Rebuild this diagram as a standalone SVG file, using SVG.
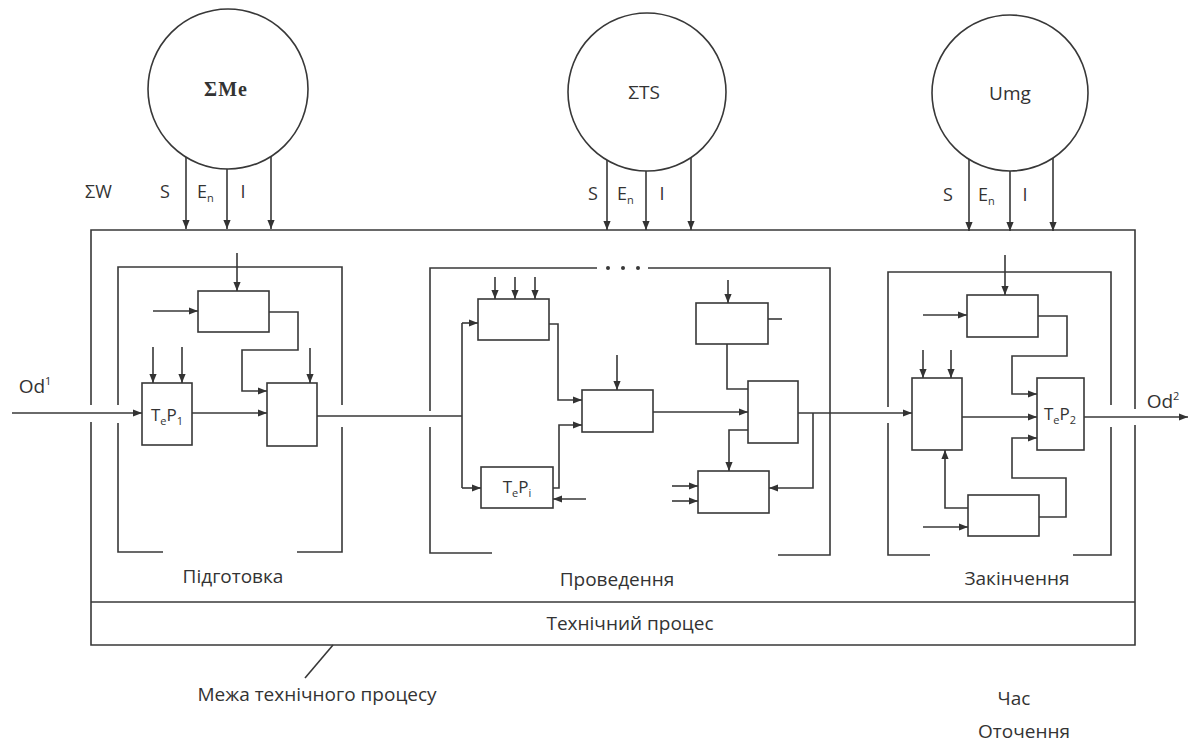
<svg xmlns="http://www.w3.org/2000/svg" width="1191" height="744" viewBox="0 0 1191 744">
<defs>
<marker id="ah" viewBox="0 0 10 10" refX="10" refY="5" markerWidth="10" markerHeight="9" markerUnits="userSpaceOnUse" orient="auto"><path d="M0,1 L10,5 L0,9 z" fill="#333"/></marker>
<style>
.ln{fill:none;stroke:#383838;stroke-width:1.6}
.bx{fill:none;stroke:#383838;stroke-width:1.6}
.ar{fill:none;stroke:#383838;stroke-width:1.6;marker-end:url(#ah)}
.t{font-family:"Open Sans","Noto Sans",sans-serif;fill:#333;font-size:18px}
.lb{font-family:"Open Sans","Noto Sans",sans-serif;fill:#333;font-size:19px;text-anchor:middle}
.sb{font-size:11px}
.bt{font-family:"Open Sans","Noto Sans",sans-serif;fill:#333;font-size:17px;text-anchor:middle}
</style>
</defs>
<rect width="1191" height="744" fill="#fff"/>

<g id="outer">
<path class="ln" d="M91,405 V230 H1135 V409 M1135,425 V645 H91 V422"/>
<path class="ln" d="M91,602 H1135"/>
</g>

<g id="circle-me">
<circle class="bx" cx="228" cy="89" r="80"/>
<text x="226" y="96" font-family="Liberation Serif,serif" font-weight="bold" font-size="20" letter-spacing="1" fill="#333" text-anchor="middle">ΣMe</text>
</g>
<g id="circle-ts">
<circle class="bx" cx="647" cy="92" r="79"/>
<text x="644" y="99" class="lb" font-size="20">ΣTS</text>
</g>
<g id="circle-umg">
<circle class="bx" cx="1010" cy="93" r="78"/>
<text x="1010" y="100" class="lb" font-size="20">Umg</text>
</g>

<g id="labels-top">
<text x="85" y="198" class="t">ΣW</text>
<text x="165" y="198" class="t" text-anchor="middle">S</text>
<text x="197" y="198" class="t">E<tspan class="sb" dy="4">n</tspan></text>
<text x="243" y="198" class="t" text-anchor="middle">I</text>
<text x="593" y="200" class="t" text-anchor="middle">S</text>
<text x="617" y="200" class="t">E<tspan class="sb" dy="4">n</tspan></text>
<text x="662" y="200" class="t" text-anchor="middle">I</text>
<text x="948" y="201" class="t" text-anchor="middle">S</text>
<text x="978" y="201" class="t">E<tspan class="sb" dy="4">n</tspan></text>
<text x="1025" y="201" class="t" text-anchor="middle">I</text>
</g>

<g id="block-pidgotovka">
<path class="ln" d="M163,552 H118 V423 M118,405 V267 H342 V405 M342,427 V552 H297"/>
<rect id="p-top" class="bx" x="198" y="291" width="71" height="41"/>
<rect id="p-te1" class="bx" x="142" y="383" width="50" height="62"/>
<text x="167" y="421" class="bt">T<tspan class="sb" dy="4">e</tspan><tspan dy="-4">P</tspan><tspan class="sb" dy="4">1</tspan></text>
<rect id="p-right" class="bx" x="267" y="383" width="50" height="63"/>
<text x="233" y="583" class="lb">Підготовка</text>
</g>

<g id="block-provedennya">
<path class="ln" d="M492,553 H430 V427 M430,411 V268 H597 M648,268 H830 V555 H778"/>
<circle cx="608" cy="268" r="2" fill="#383838"/>
<circle cx="623" cy="268" r="2" fill="#383838"/>
<circle cx="638" cy="268" r="2" fill="#383838"/>
<rect class="bx" x="478" y="299" width="71" height="41"/>
<rect class="bx" x="582" y="390" width="71" height="42"/>
<rect class="bx" x="481" y="467" width="72" height="41"/>
<text x="517" y="493" class="bt">T<tspan class="sb" dy="4">e</tspan><tspan dy="-4">P</tspan><tspan class="sb" dy="4">i</tspan></text>
<rect class="bx" x="696" y="303" width="72" height="41"/>
<rect class="bx" x="748" y="381" width="50" height="62"/>
<rect class="bx" x="698" y="471" width="71" height="42"/>
<text x="617" y="586" class="lb">Проведення</text>
</g>

<g id="block-zakinchennya">
<path class="ln" d="M930,555 H888 V423 M888,407 V272 H1111 V405 M1111,427 V555 H1073"/>
<rect class="bx" x="967" y="295" width="71" height="42"/>
<rect class="bx" x="1037" y="378" width="47" height="72"/>
<text x="1060" y="420" class="bt">T<tspan class="sb" dy="4">e</tspan><tspan dy="-4">P</tspan><tspan class="sb" dy="4">2</tspan></text>
<rect class="bx" x="912" y="378" width="50" height="72"/>
<rect class="bx" x="968" y="495" width="71" height="41"/>
<text x="1017" y="585" class="lb">Закінчення</text>
</g>

<g id="connectors">
<path class="ar" d="M186,157 V229"/>
<path class="ar" d="M227,169 V229"/>
<path class="ar" d="M271,157 V229"/>
<path class="ar" d="M607,160 V230"/>
<path class="ar" d="M646,171 V230"/>
<path class="ar" d="M691,158 V230"/>
<path class="ar" d="M969,159 V231"/>
<path class="ar" d="M1010,171 V231"/>
<path class="ar" d="M1053,158 V231"/>

<path class="ar" d="M237,253 V291"/>
<path class="ar" d="M153,311 H198"/>
<path class="ar" d="M269,312 H298 V350 H242 V391 H267"/>
<path class="ar" d="M153,347 V383"/>
<path class="ar" d="M182,347 V383"/>
<path class="ar" d="M310,348 V383"/>
<path class="ar" d="M12,413 H142"/>
<path class="ar" d="M192,413 H267"/>
<path class="ln" d="M317,416 H462 M462,323 V488"/>

<path class="ar" d="M462,323 H478"/>
<path class="ar" d="M462,488 H481"/>
<path class="ar" d="M495,277 V299"/>
<path class="ar" d="M515,277 V299"/>
<path class="ar" d="M535,277 V299"/>
<path class="ar" d="M549,324 H558 V400 H582"/>
<path class="ar" d="M617,355 V390"/>
<path class="ar" d="M553,488 H559 V425 H582"/>
<path class="ar" d="M586,499 H553"/>
<path class="ar" d="M653,412 H748"/>
<path class="ar" d="M728,280 V303"/>
<path class="ln" d="M768,319 H782"/>
<path class="ln" d="M727,344 V389 H748"/>
<path class="ar" d="M748,430 H729 V471"/>
<path class="ar" d="M672,486 H698"/>
<path class="ar" d="M672,501 H698"/>
<path class="ar" d="M813,413 V488 H769"/>
<path class="ar" d="M798,413 H912"/>

<path class="ar" d="M1005,255 V295"/>
<path class="ar" d="M923,315 H967"/>
<path class="ar" d="M1038,316 H1067 V356 H1012 V394 H1037"/>
<path class="ar" d="M923,350 V378"/>
<path class="ar" d="M951,350 V378"/>
<path class="ar" d="M962,417 H1037"/>
<path class="ar" d="M923,527 H968"/>
<path class="ar" d="M968,508 H945 V450"/>
<path class="ar" d="M1039,517 H1066 V478 H1012 V438 H1037"/>
<path class="ar" d="M1084,417 H1188"/>
<path class="ln" d="M333,645 L305,678"/>
</g>

<g id="labels-bottom">
<text x="35" y="393" class="lb" font-size="18">Od<tspan class="sb" dy="-8">1</tspan></text>
<text x="1163" y="408" class="lb" font-size="18">Od<tspan class="sb" dy="-8">2</tspan></text>
<text x="630" y="630" class="lb">Технічний процес</text>
<text x="317" y="701" class="lb">Межа технічного процесу</text>
<text x="1014" y="705" class="lb" font-size="17">Час</text>
<text x="1024" y="738" class="lb" font-size="17">Оточення</text>
</g>
</svg>
